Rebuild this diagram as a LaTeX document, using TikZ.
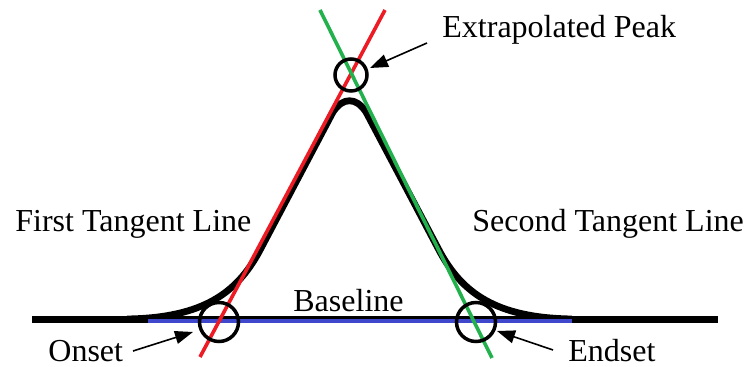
\documentclass[tikz,border=0pt]{standalone}
\usepackage{fontspec}
\setmainfont{Liberation Serif}
\usetikzlibrary{arrows.meta}
\definecolor{curvered}{RGB}{237,28,36}
\definecolor{curvegreen}{RGB}{34,177,76}
\definecolor{baseblue}{RGB}{63,72,204}
\tikzset{
  lbl/.style={inner sep=0pt, anchor=base west, font=\fontsize{16}{16}\selectfont},
  ring/.style={draw=black, line width=1.75pt, circle, inner sep=0pt},
  pointer/.style={line width=0.8pt, -{Triangle[length=9pt,width=6.5pt]}},
  tangentline/.style={line width=1.8pt}
}
\begin{document}
\begin{tikzpicture}[x=0.5pt,y=-0.5pt]
\useasboundingbox (0,0) rectangle (745,367);
% baseline black
\draw[line width=3.5pt] (32,320) -- (718,320);
% peak curve
\draw[line width=3.4pt, line join=round]
  (127,319) .. controls (204,318) and (237,292) .. (259,252)
  -- (333,112) .. controls (343,97) and (356,97) .. (366,112)
  -- (440,252) .. controls (462,292) and (495,318) .. (572,319);
% blue baseline
\draw[baseblue, line width=2pt] (148,321) -- (572,321);
% tangent lines
\coordinate (r1) at (200,357); \coordinate (r2) at (385,10);
\coordinate (g1) at (320,10); \coordinate (g2) at (492,358);
\draw[curvered, tangentline] (r1) -- (r2);
\draw[curvegreen, tangentline] (g1) -- (g2);
% circles
\node[ring, minimum size=16pt] (peak) at (351,75) {};
\node[ring, minimum size=19.5pt] (onset) at (219,322) {};
\node[ring, minimum size=19.5pt] (endset) at (476,322) {};
% labels
\node[lbl] (tpeak) at (442,38) {Extrapolated Peak};
\node[lbl] (tfirst) at (15,232) {First Tangent Line};
\node[lbl] (tsecond) at (472,232) {Second Tangent Line};
\node[lbl] (tbase) at (293,312) {Baseline};
\node[lbl] (tonset) at (48,362) {Onset};
\node[lbl] (tendset) at (568,362) {Endset};
% arrows
\coordinate (a1s) at (427,43); \coordinate (a1e) at (370,68);
\coordinate (a2s) at (133,351); \coordinate (a2e) at (193,332);
\coordinate (a3s) at (553,350); \coordinate (a3e) at (497,331);
\draw[pointer] (a1s) -- (a1e);
\draw[pointer] (a2s) -- (a2e);
\draw[pointer] (a3s) -- (a3e);
\end{tikzpicture}
\end{document}
